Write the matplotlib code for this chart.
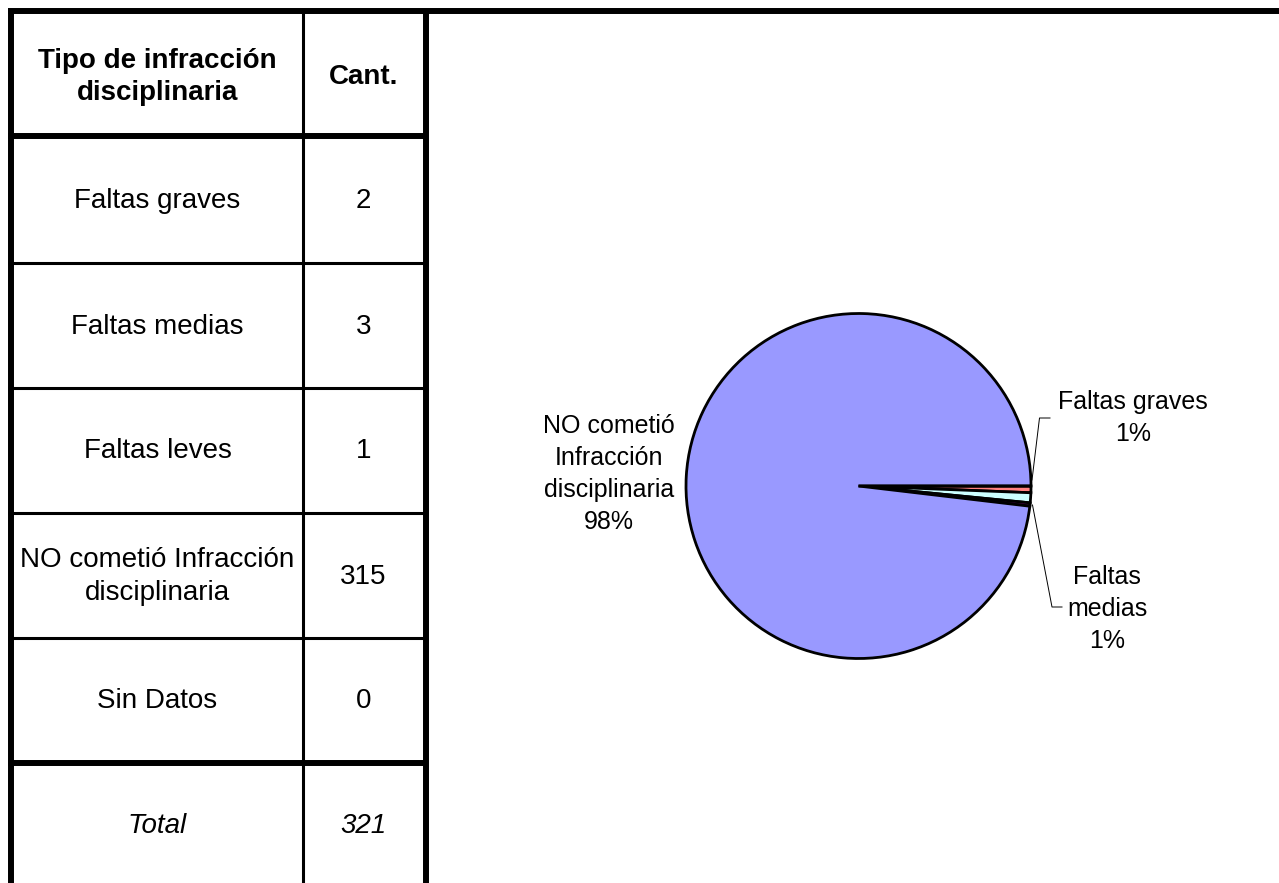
import matplotlib
matplotlib.use("Agg")
import matplotlib.pyplot as plt
import numpy as np

plt.rcParams['font.family'] = ['Liberation Sans', 'DejaVu Sans']

# ---- data ----
header = ["Tipo de infracción\ndisciplinaria", "Cant."]
categories = ["Faltas graves", "Faltas medias", "Faltas leves",
              "NO cometió Infracción\ndisciplinaria", "Sin Datos"]
values = [2, 3, 1, 315, 0]
total_label = "Total"
total_value = 321
pie_labels = ["Faltas graves", "Faltas\nmedias", "Faltas leves",
              "NO cometió\nInfracción\ndisciplinaria", "Sin Datos"]
slice_colors = ["#FF8080", "#CCFFFF", "#660066", "#9999FF", "#FFFFCC"]

W, H = 1279, 883
fig = plt.figure(figsize=(W / 100, H / 100), dpi=100)
fig.patch.set_facecolor("white")

# ---- table (pixel coordinates, y downward) ----
ax = fig.add_axes([0, 0, 1, 1])
ax.set_xlim(0, W)
ax.set_ylim(H, 0)
ax.axis("off")

thick = 4.3
thin = 2.2
x_left, x_div, x_right = 11, 302.5, 425.5
y_top = 11
row_lines = [136, 263, 388, 513, 638, 763]

ax.plot([8, W], [y_top, y_top], color="black", lw=thick, solid_capstyle="butt")
ax.plot([x_left, x_left], [y_top, H], color="black", lw=thick, solid_capstyle="butt")
ax.plot([x_right, x_right], [y_top, H], color="black", lw=thick, solid_capstyle="butt")
ax.plot([x_div, x_div], [y_top, H], color="black", lw=thin, solid_capstyle="butt")
for i, y in enumerate(row_lines):
    lw = thick if i in (0, len(row_lines) - 1) else thin
    ax.plot([8, 427.5], [y, y], color="black", lw=lw, solid_capstyle="butt")

c1 = (14 + 301) / 2
c2 = (304 + 423) / 2
fs = 20
hy = (14 + 136) / 2 + 2
ax.text(c1, hy, header[0], ha="center", va="center", fontsize=fs,
        fontweight="bold", linespacing=1.32)
ax.text(c2, hy, header[1], ha="center", va="center", fontsize=fs,
        fontweight="bold")
bounds = row_lines
for i, (cat, v) in enumerate(zip(categories, values)):
    yc = (bounds[i] + bounds[i + 1]) / 2 + 1
    ax.text(c1, yc, cat, ha="center", va="center", fontsize=fs, linespacing=1.32)
    ax.text(c2, yc, str(v), ha="center", va="center", fontsize=fs)
ax.text(c1, 826, total_label, ha="center", va="center", fontsize=fs, style="italic")
ax.text(c2, 826, str(total_value), ha="center", va="center", fontsize=fs, style="italic")

# ---- pie (pixel coordinates, y upward) ----
ax2 = fig.add_axes([0, 0, 1, 1])
ax2.patch.set_alpha(0)
cx, cy, r = 858.5, H - 486, 172.5
wedges, _ = ax2.pie(values, colors=slice_colors, startangle=0, counterclock=False,
                    center=(cx, cy), radius=r,
                    wedgeprops=dict(edgecolor="black", linewidth=2.0))
ax2.set_xlim(0, W)
ax2.set_ylim(0, H)
ax2.set_aspect("auto")
ax2.axis("off")

tot = sum(values)
pcts = [f"{v / tot * 100:.0f}%" for v in values]
lfs = 18
ls = 1.42
ax2.text(609, H - 474, pie_labels[3] + "\n" + pcts[3], ha="center", va="center",
         fontsize=lfs, linespacing=ls)
ax2.text(1133, H - 418, pie_labels[0] + "\n" + pcts[0], ha="center", va="center",
         fontsize=lfs, linespacing=ls)
ax2.text(1107, H - 609, pie_labels[1] + "\n" + pcts[1], ha="center", va="center",
         fontsize=lfs, linespacing=ls)

# leader lines
ax2.plot([1032, 1039.5, 1050], [H - 480, H - 418, H - 418], color="black", lw=0.7)
ax2.plot([1032.5, 1052, 1062], [H - 505, H - 607, H - 607], color="black", lw=0.7)

fig.savefig("out.png", dpi=100, facecolor="white")
